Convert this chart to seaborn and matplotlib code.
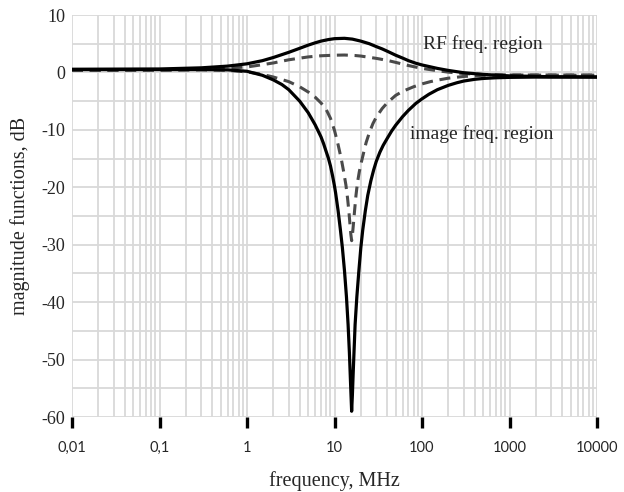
import numpy as np
import pandas as pd
import seaborn as sns
import matplotlib.pyplot as plt
from matplotlib.ticker import LogLocator, MultipleLocator, NullFormatter

# RF gain (solid, upper)
rf_freq = [0.01, 0.1, 0.3, 0.6, 1, 1.5, 2, 3, 4, 5, 6, 7, 8.5, 10, 13, 16, 20, 25, 30,
           35, 40, 50, 60, 70, 85, 100, 150, 200, 300, 500, 1000, 3000, 10000]
rf_db = [0.55, 0.6, 0.8, 1.1, 1.5, 2.05, 2.6, 3.5, 4.2, 4.75, 5.15, 5.45, 5.72, 5.88,
         5.94, 5.8, 5.45, 5.0, 4.5, 4.1, 3.7, 3.0, 2.5, 2.05, 1.6, 1.3, 0.7, 0.35, -0.05,
         -0.35, -0.6, -0.75, -0.8]

# image rejection (solid, notch)
img_freq = [0.01, 0.1, 0.3, 0.6, 1, 1.5, 2, 2.5, 3, 4, 5, 6, 7, 7.5, 8, 8.5, 9, 9.5, 10,
            10.3, 11, 11.7, 12.3, 13, 13.7, 14.3, 14.8, 15.15, 15.45, 15.7, 16, 16.3, 16.7,
            17.2, 18, 19, 20, 21, 22.5, 24, 26, 28, 30, 33, 36, 40, 45, 50, 60, 70, 85,
            100, 120, 150, 200, 250, 300, 400, 500, 700, 1000, 2000, 10000]
img_db = [0.5, 0.5, 0.5, 0.45, 0.2, -0.5, -1.3, -2.1, -3.0, -5.0, -7.0, -9.1, -11.2,
          -12.4, -13.7, -14.9, -16.3, -18.0, -19.8, -21.0, -24.1, -27.5, -30.5, -34.5,
          -39.1, -43.9, -48.8, -52.9, -56.3, -59.0, -56.3, -52.9, -48.8, -43.9, -39.1,
          -34.5, -30.5, -27.5, -24.1, -21.4, -18.9, -17.0, -15.5, -13.9, -12.7, -11.5,
          -10.2, -9.2, -7.7, -6.6, -5.4, -4.6, -3.8, -3.0, -2.25, -1.8, -1.5, -1.2,
          -1.05, -0.93, -0.86, -0.81, -0.8]

# RF gain, second case (dashed, upper)
rf2_freq = [0.01, 0.1, 0.3, 0.6, 1, 1.5, 2, 3, 5, 7, 10, 13, 17, 20, 30, 40, 50, 70, 100,
            150, 200, 300, 500, 1000, 10000]
rf2_db = [0.35, 0.4, 0.5, 0.75, 0.95, 1.35, 1.65, 2.2, 2.7, 2.9, 3.0, 3.03, 2.95, 2.85,
          2.45, 2.1, 1.75, 1.2, 0.7, 0.3, 0.05, -0.2, -0.35, -0.45, -0.5]

# image rejection, second case (dashed, notch)
img2_freq = [0.01, 0.1, 0.3, 0.6, 1, 1.5, 2, 3, 4, 5, 6, 7, 8, 9, 10, 11, 12, 12.8, 13.5,
             14.1, 14.6, 15, 15.35, 15.7, 16.05, 16.5, 17, 17.6, 18.3, 19.2, 20.3, 21.5,
             23, 25, 27.5, 30, 35, 40, 50, 60, 80, 100, 125, 150, 200, 300, 500, 1000,
             10000]
img2_db = [0.35, 0.4, 0.45, 0.35, 0.1, -0.35, -0.8, -1.6, -2.5, -3.4, -4.3, -5.3, -6.4,
           -8.0, -10.1, -12.6, -15.2, -17.5, -19.6, -21.9, -24.2, -26.3, -28.1, -29.3,
           -28.2, -26.2, -23.9, -21.4, -19.2, -17.3, -15.6, -14.0, -12.2, -10.5, -8.9,
           -7.8, -6.3, -5.3, -4.0, -3.3, -2.5, -2.0, -1.6, -1.35, -1.0, -0.7, -0.5,
           -0.45, -0.45]

x_ticks = [0.01, 0.1, 1, 10, 100, 1000, 10000]
x_labels = ['0,01', '0,1', '1', '10', '100', '1000', '10000']
y_ticks = [-60, -50, -40, -30, -20, -10, 0, 10]

sns.set_style("white")
plt.rcParams['font.family'] = ['Liberation Serif', 'DejaVu Serif']
plt.rcParams['axes.unicode_minus'] = False

fig = plt.figure(figsize=(6.24, 4.92), dpi=100)
ax = fig.add_axes([72 / 624, 1 - 417 / 492, 525 / 624, 402 / 492])

grid_c = '#d9d9d9'
ax.set_xscale('log')
ax.set_xlim(0.01, 10000)
ax.set_ylim(-60, 10)
ax.set_xticks(x_ticks)
ax.set_xticklabels(x_labels)
ax.xaxis.set_minor_locator(LogLocator(base=10, subs=np.arange(2, 10), numticks=20))
ax.xaxis.set_minor_formatter(NullFormatter())
ax.set_yticks(y_ticks)
ax.set_yticklabels([str(v) for v in y_ticks])
ax.yaxis.set_minor_locator(MultipleLocator(5))
ax.grid(which='both', color=grid_c, lw=1.3, zorder=0)
for s in ax.spines.values():
    s.set_visible(False)

ax.tick_params(axis='x', which='major', bottom=True, direction='out', length=8, width=2.4,
               color='black', pad=9)
ax.tick_params(axis='x', which='minor', bottom=False, length=0)
ax.tick_params(axis='y', which='both', left=False, length=0, pad=5, labelsize=13)
for lbl in ax.get_xticklabels():
    lbl.set_fontfamily('Lato')
    lbl.set_fontsize(10.5)

dash = (0, (3.6, 2.2))
sns.lineplot(x=rf2_freq, y=rf2_db, color='#4a4a4a', lw=2.2, linestyle=dash, ax=ax,
             errorbar=None, zorder=3)
sns.lineplot(x=img2_freq, y=img2_db, color='#4a4a4a', lw=2.2, linestyle=dash, ax=ax,
             errorbar=None, zorder=3)
sns.lineplot(x=rf_freq, y=rf_db, color='black', lw=2.3, ax=ax, errorbar=None, zorder=4)
sns.lineplot(x=img_freq, y=img_db, color='black', lw=2.3, ax=ax, errorbar=None, zorder=4)

ax.text(103, 5.0, 'RF freq. region', fontsize=14, va='center', ha='left')
ax.text(73, -10.8, 'image freq. region', fontsize=14, va='center', ha='left')

ax.set_xlabel('frequency, MHz', fontsize=14.5, labelpad=12)
ax.set_ylabel('magnitude functions, dB', fontsize=14.5, labelpad=8)

fig.savefig('out.png', dpi=100)
